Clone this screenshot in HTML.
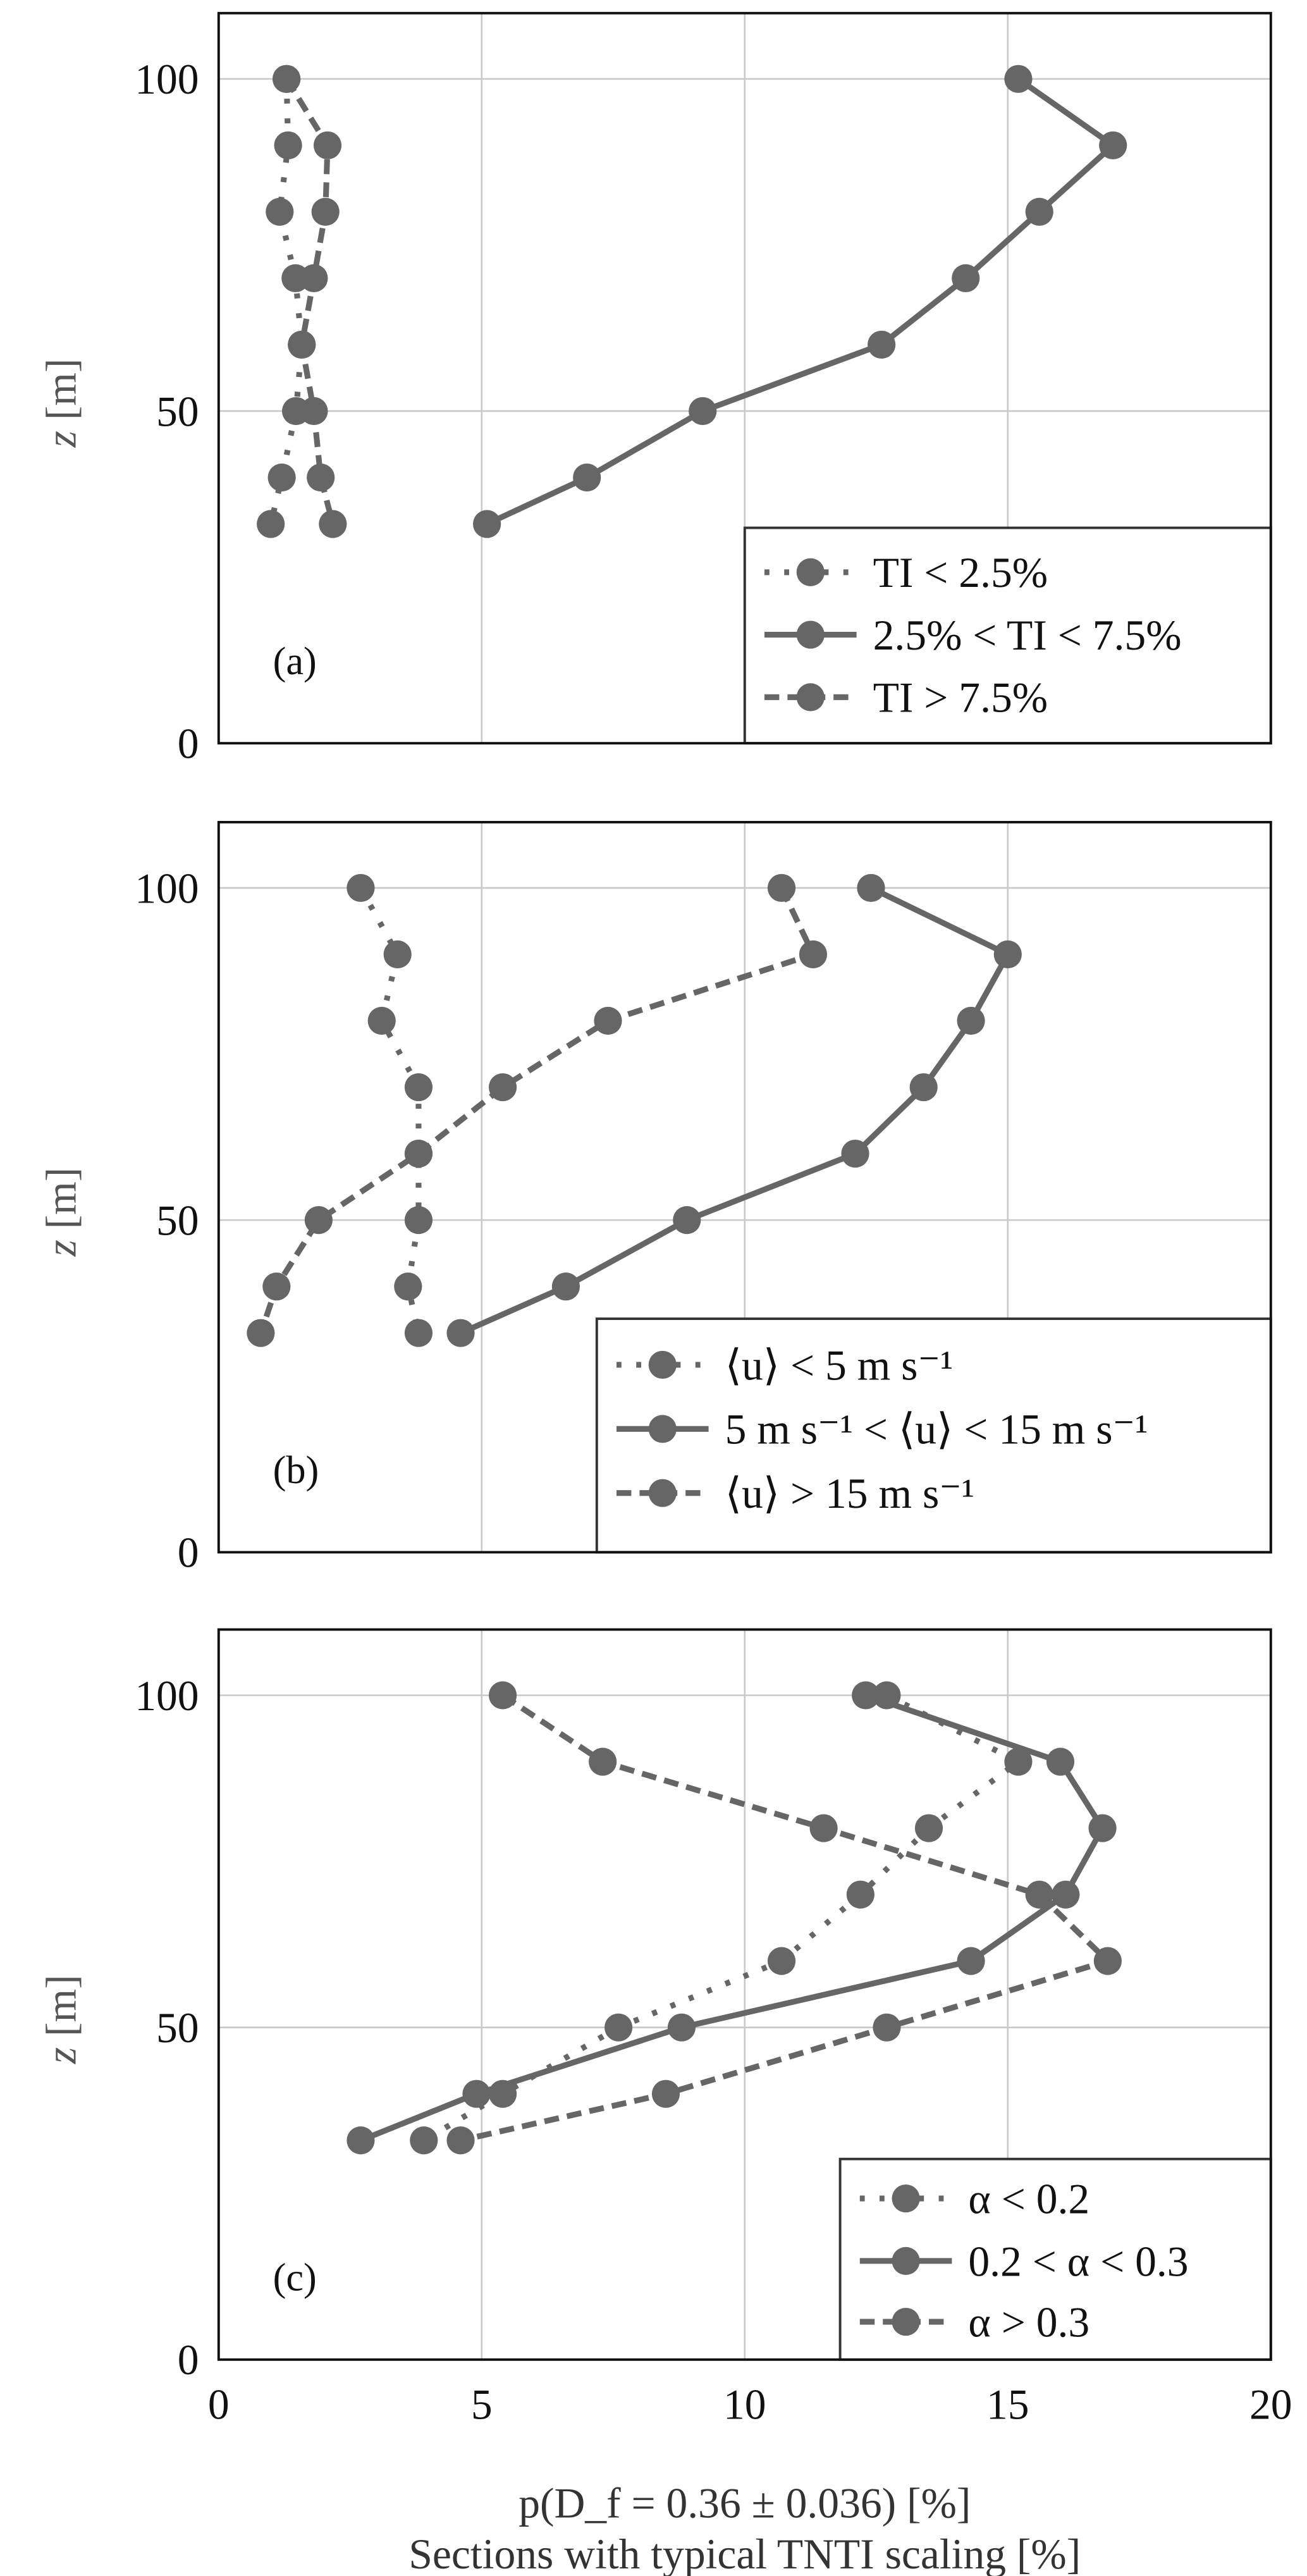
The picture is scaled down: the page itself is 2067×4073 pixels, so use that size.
<!DOCTYPE html>
<html><head><meta charset="utf-8"><style>html,body{margin:0;padding:0;background:#fff}svg{display:block}</style></head>
<body>
<svg width="2067" height="4073" viewBox="0 0 795 1566.6" preserveAspectRatio="none" xmlns="http://www.w3.org/2000/svg" font-family="Liberation Serif, serif">
<g id="content"></g>
<script>
const NS="http://www.w3.org/2000/svg";
const root=document.getElementById('content');
function el(t,a,txt,par){const e=document.createElementNS(NS,t);for(const k in a)e.setAttribute(k,a[k]);if(txt!==undefined)e.textContent=txt;(par||root).appendChild(e);return e;}
const X=v=>133+32*v;
const zs=[100,90,80,70,60,50,40,33];
const styles={dot:"3 9",solid:"none",dash:"9 5"};
const panels=[
 {y0:452,lab:"(a)",series:[
  ["dot",[1.29,1.32,1.16,1.46,1.58,1.47,1.2,0.99]],
  ["solid",[15.2,17.0,15.6,14.2,12.6,9.2,7.0,5.1]],
  ["dash",[1.29,2.07,2.03,1.81,1.58,1.81,1.94,2.17]]],
  leg:{x:453,y:321,w:320,rows:[348,386,424],txt:["TI < 2.5%","2.5% < TI < 7.5%","TI > 7.5%"]}},
 {y0:944,lab:"(b)",series:[
  ["dot",[2.7,3.4,3.1,3.8,3.8,3.8,3.6,3.8]],
  ["solid",[12.4,15.0,14.3,13.4,12.1,8.9,6.6,4.6]],
  ["dash",[10.7,11.3,7.4,5.4,3.8,1.9,1.1,0.8]]],
  leg:{x:363,y:802,w:410,rows:[830,869,908],txt:["⟨u⟩ < 5 m s⁻¹","5 m s⁻¹ < ⟨u⟩ < 15 m s⁻¹","⟨u⟩ > 15 m s⁻¹"]}},
 {y0:1435,lab:"(c)",series:[
  ["dot",[12.7,15.2,13.5,12.2,10.7,7.6,5.4,3.9]],
  ["solid",[12.3,16.0,16.8,16.1,14.3,8.8,4.9,2.7]],
  ["dash",[5.4,7.3,11.5,15.6,16.9,12.7,8.5,4.6]]],
  leg:{x:511,y:1313,w:262,rows:[1337,1375,1412],txt:["α < 0.2","0.2 < α < 0.3","α > 0.3"]}}
];
panels.forEach(p=>{
 const Y=z=>p.y0-4.04*z, top=p.y0-444;
 [5,10,15].forEach(v=>el('line',{x1:X(v),x2:X(v),y1:top,y2:p.y0,stroke:'#c8c8c8','stroke-width':1}));
 [50,100].forEach(z=>el('line',{x1:133,x2:773,y1:Y(z),y2:Y(z),stroke:'#c8c8c8','stroke-width':1}));
 [0,50,100].forEach(z=>el('text',{x:121,y:Y(z)+9,'font-size':26,'text-anchor':'end',fill:'#111'},String(z)));
 const t=el('text',{x:0,y:0,'font-size':26,fill:'#555','text-anchor':'middle',transform:`translate(46,${Y(50)-5}) rotate(-90)`});
 el('tspan',{'font-style':'italic'},'z',t);
 el('tspan',{},' [m]',t);
 p.series.forEach(([s,vals])=>{
  const pts=vals.map((v,i)=>X(v)+','+Y(zs[i])).join(' ');
  const a={points:pts,fill:'none',stroke:'#666','stroke-width':3.5};
  if(styles[s]!=='none')a['stroke-dasharray']=styles[s];
  el('polyline',a);
  vals.forEach((v,i)=>el('circle',{cx:X(v),cy:Y(zs[i]),r:8.5,fill:'#666'}));
 });
 el('text',{x:166,y:p.y0-42,'font-size':24,fill:'#111'},p.lab);
 const L=p.leg;
 el('rect',{x:L.x,y:L.y,width:L.w,height:p.y0-L.y,fill:'#fff',stroke:'#333','stroke-width':1.5});
 ['dot','solid','dash'].forEach((s,i)=>{
  const a={x1:L.x+12,x2:L.x+68,y1:L.rows[i],y2:L.rows[i],stroke:'#666','stroke-width':3.5};
  if(styles[s]!=='none')a['stroke-dasharray']=styles[s];
  el('line',a);
  el('circle',{cx:L.x+40,cy:L.rows[i],r:8.5,fill:'#666'});
  el('text',{x:L.x+78,y:L.rows[i]+9,'font-size':26,fill:'#111'},L.txt[i]);
 });
 el('rect',{x:133,y:top,width:640,height:444,fill:'none',stroke:'#111','stroke-width':1.5});
});
[0,5,10,15,20].forEach(v=>el('text',{x:X(v),y:1471,'font-size':26,'text-anchor':'middle',fill:'#111'},String(v)));
el('text',{x:453,y:1531,'font-size':26,'text-anchor':'middle',fill:'#333'},'p(D_f = 0.36 ± 0.036) [%]');
el('text',{x:453,y:1562,'font-size':26,'text-anchor':'middle',fill:'#333'},'Sections with typical TNTI scaling [%]');
</script>
</svg>
</body></html>
